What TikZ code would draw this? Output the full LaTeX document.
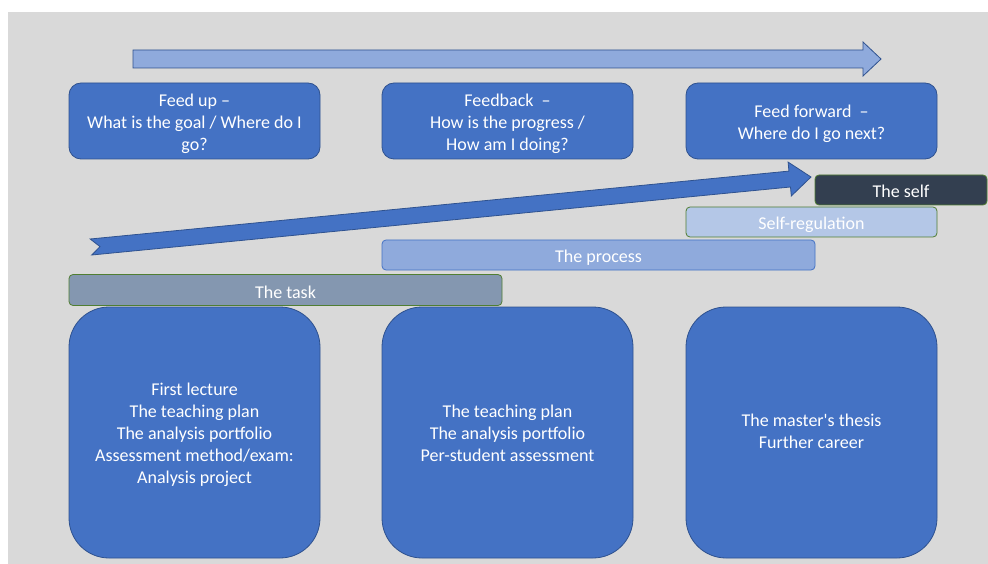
\documentclass[tikz,border=0pt]{standalone}
\usepackage{fontspec}
\setmainfont{Carlito}[Ligatures=TeXOff]
\definecolor{bg}{HTML}{D9D9D9}
\definecolor{boxblue}{HTML}{4472C4}
\definecolor{boxedge}{HTML}{2F528F}
\definecolor{lightblue}{HTML}{8FAADC}
\definecolor{paleblue}{HTML}{B4C7E7}
\definecolor{taskgray}{HTML}{8497B0}
\definecolor{selfdark}{HTML}{333F50}
\definecolor{greenedge}{HTML}{507E32}
\tikzset{
  txt/.style={text=white, align=center, font=\fontsize{18}{22}\selectfont, inner sep=0pt, yshift=-2.5pt},
  basebox/.style={inner sep=0pt, line width=0.8pt},
  topbox/.style={basebox, draw=boxedge, fill=boxblue, rounded corners=12pt,
                 minimum width=251pt, minimum height=76pt},
  bigbox/.style={basebox, draw=boxedge, fill=boxblue, rounded corners=40pt,
                 minimum width=251pt, minimum height=251pt},
  barbox/.style={basebox, rounded corners=4pt, minimum height=30pt},
  arrowshape/.style={draw=boxedge, line width=0.8pt, line join=miter},
}
\begin{document}
\begin{tikzpicture}[x=1pt,y=-1pt]
\useasboundingbox (0,0) rectangle (988,564);
\fill[bg] (8,12) rectangle (988,564);

% top light arrow
\path[arrowshape, fill=lightblue] (133,50) -- (863,50) -- (863,42) -- (881,59) -- (863,76) -- (863,68) -- (133,68) -- cycle;

% top boxes
\node[topbox, label={[txt]center:{Feed up –\\What is the goal / Where do I\\go?}}] (feedup) at (194.5,121) {};
\node[topbox, label={[txt]center:{Feedback \ –\\How is the progress /\\How am I doing?}}] (feedback) at (507.5,121) {};
\node[topbox, label={[txt]center:{Feed forward \ –\\Where do I go next?}}] (feedfwd) at (811.5,121) {};

% diagonal arrow
\path[arrowshape, fill=boxblue] (90.2,239.0) -- (788.9,171.1) -- (788.1,162.1) -- (811,177) -- (791.3,196.0) -- (790.5,187.0) -- (91.8,255.0) -- (100,246.6) -- cycle;

% bars
\node[barbox, draw=greenedge, fill=selfdark, minimum width=172pt, label={[txt, yshift=1pt]center:The self}] (self) at (901,190) {};
\node[barbox, draw=greenedge, fill=paleblue, minimum width=251pt, label={[txt]center:Self-regulation}] (selfreg) at (811.5,222) {};
\node[barbox, draw=boxblue, fill=lightblue, minimum width=433pt, label={[txt]center:The process}] (process) at (598.5,255) {};
\node[barbox, draw=greenedge, fill=taskgray, minimum width=433pt, minimum height=31pt, label={[txt]center:The task}] (task) at (285.5,290) {};

% bottom boxes
\node[bigbox, label={[txt]center:{First lecture\\The teaching plan\\The analysis portfolio\\Assessment method/exam:\\Analysis project}}] (left) at (194.5,432.5) {};
\node[bigbox, label={[txt, yshift=1.5pt]center:{The teaching plan\\The analysis portfolio\\Per-student assessment}}] (mid) at (507.5,432.5) {};
\node[bigbox, label={[txt, yshift=3.5pt]center:{The master's thesis\\Further career}}] (right) at (811.5,432.5) {};
\end{tikzpicture}
\end{document}
